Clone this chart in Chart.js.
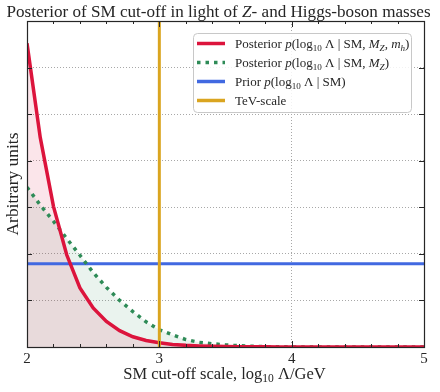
<!DOCTYPE html>
<html><head><meta charset="utf-8">
<script src="https://cdn.jsdelivr.net/npm/chart.js@4/dist/chart.umd.min.js"></script>
<style>html,body{margin:0;padding:0;background:#fff}#wrap{width:440px;height:392px;position:relative}</style>
</head><body><div id="wrap"><canvas id="c" width="440" height="392"></canvas></div>
<script>
// ---- data ----
const logLambda = [2.0,2.1,2.2,2.3,2.4,2.5,2.6,2.7,2.8,2.9,3.0,3.1,3.2,3.3,3.4,3.5,3.6,3.7,3.8,3.9,4.0,4.5,5.0];
const posteriorMZmh = [6.52,4.5,3.02,1.98,1.27,0.84,0.55,0.35,0.22,0.14,0.09,0.055,0.035,0.022,0.014,0.009,0.006,0.004,0.003,0.002,0.001,0,0];
const posteriorMZ = [3.43,3.05,2.7,2.33,1.97,1.6,1.28,1.0,0.76,0.54,0.37,0.26,0.16,0.10,0.07,0.045,0.027,0.015,0.008,0.004,0.002,0,0];
const priorRange = [2, 5];
const priorValue = 1.79;
const tevScale = 3;
const yRange = [0, 7];
const xTickLabels = ['2','3','4','5'];

const FONT = '"Liberation Serif", "DejaVu Serif", serif';
const RED = '#DC143C', GREEN = '#2E8B57', BLUE = '#4169E1', GOLD = '#DAA520';
const INK = '#262626';

function drawRich(ctx, segs, x, y, size, align) {
  let w = 0;
  const parts = segs.map(s => {
    const sz = s.sub ? size * 0.7 : size;
    const font = (s.i ? 'italic ' : '') + sz + 'px ' + FONT;
    ctx.font = font;
    const m = ctx.measureText(s.t).width;
    w += m;
    return { t: s.t, font, w: m, dy: s.sub ? size * 0.22 : 0 };
  });
  let cx = align === 'center' ? x - w / 2 : x;
  ctx.textBaseline = 'alphabetic';
  ctx.textAlign = 'left';
  for (const p of parts) { ctx.font = p.font; ctx.fillText(p.t, cx, y + p.dy); cx += p.w; }
  return w;
}

const titleSegs = [{t:'Posterior of SM cut-off in light of '},{t:'Z',i:true},{t:'- and Higgs-boson masses'}];
const xTitleSegs = [{t:'SM cut-off scale, log'},{t:'10',sub:true},{t:' Λ/GeV'}];
const yTitle = 'Arbitrary units';
const legendItems = [
  {color: RED, dash: [], segs: [{t:'Posterior '},{t:'p',i:true},{t:'(log'},{t:'10',sub:true},{t:' Λ | SM, '},{t:'M',i:true},{t:'Z',i:true,sub:true},{t:', '},{t:'m',i:true},{t:'h',i:true,sub:true},{t:')'}]},
  {color: GREEN, dash: [3.5,5], segs: [{t:'Posterior '},{t:'p',i:true},{t:'(log'},{t:'10',sub:true},{t:' Λ | SM, '},{t:'M',i:true},{t:'Z',i:true,sub:true},{t:')'}]},
  {color: BLUE, dash: [], segs: [{t:'Prior '},{t:'p',i:true},{t:'(log'},{t:'10',sub:true},{t:' Λ | SM)'}]},
  {color: GOLD, dash: [], segs: [{t:'TeV-scale'}]}
];

const decor = {
  id: 'decor',
  afterDatasetsDraw(chart) {
    const ctx = chart.ctx, a = chart.chartArea;
    const xs = chart.scales.x, ys = chart.scales.y;
    ctx.save();
    // inward ticks
    ctx.strokeStyle = INK; ctx.lineWidth = 1;
    ctx.beginPath();
    for (let v = 2; v <= 5.0001; v += 0.2) {
      const px = Math.round(xs.getPixelForValue(v)) + 0.5;
      const major = Math.abs(v - Math.round(v)) < 1e-6;
      const L = major ? 6 : 3;
      ctx.moveTo(px, a.bottom); ctx.lineTo(px, a.bottom - L);
      ctx.moveTo(px, a.top); ctx.lineTo(px, a.top + L);
    }
    for (let v = yRange[0]; v <= yRange[1]; v += 1) {
      const py = Math.round(ys.getPixelForValue(v)) + 0.5;
      ctx.moveTo(a.left, py); ctx.lineTo(a.left + 5, py);
      ctx.moveTo(a.right, py); ctx.lineTo(a.right - 5, py);
    }
    ctx.stroke();
    // frame
    ctx.strokeStyle = INK; ctx.lineWidth = 1.2;
    ctx.strokeRect(Math.round(a.left) + 0.5, Math.round(a.top) + 0.5, Math.round(a.right - a.left), Math.round(a.bottom - a.top));
    // legend
    const bx = 193, by = 33, bw = 218, bh = 79;
    ctx.beginPath();
    ctx.roundRect(bx + 0.5, by + 0.5, bw, bh, 4);
    ctx.fillStyle = 'rgba(255,255,255,0.85)'; ctx.fill();
    ctx.strokeStyle = '#c8c8c8'; ctx.lineWidth = 1; ctx.stroke();
    const rows = [43.5, 62.5, 81.5, 100.5];
    legendItems.forEach((it, k) => {
      ctx.save();
      ctx.strokeStyle = it.color; ctx.lineWidth = 3.5; ctx.setLineDash(it.dash); ctx.lineCap = 'butt';
      ctx.beginPath(); ctx.moveTo(197, rows[k]); ctx.lineTo(225, rows[k]); ctx.stroke();
      ctx.restore();
      ctx.fillStyle = INK;
      drawRich(ctx, it.segs, 235, rows[k] + 4.5, 13, 'left');
    });
    // titles
    ctx.fillStyle = INK;
    drawRich(ctx, titleSegs, 218.5, 16.5, 17.1, 'center');
    drawRich(ctx, xTitleSegs, (a.left + a.right) / 2 - 1, 378.5, 16.5, 'center');
    ctx.save();
    ctx.translate(18, (a.top + a.bottom) / 2);
    ctx.rotate(-Math.PI / 2);
    ctx.font = '17.4px ' + FONT; ctx.textAlign = 'center'; ctx.textBaseline = 'alphabetic';
    ctx.fillText(yTitle, 0, 0);
    ctx.restore();
    ctx.restore();
  }
};

const pts = arr => logLambda.map((x, i) => ({x, y: arr[i]}));

new Chart(document.getElementById('c'), {
  type: 'line',
  data: {
    datasets: [
      {label: 'TeV-scale', data: [{x: tevScale, y: yRange[0]}, {x: tevScale, y: yRange[1]}], borderColor: GOLD, borderWidth: 3, pointRadius: 0, fill: false},
      {label: 'Posterior MZ mh', data: pts(posteriorMZmh), borderColor: RED, borderWidth: 3.5, pointRadius: 0, tension: 0, fill: 'origin', backgroundColor: 'rgba(220,20,60,0.11)'},
      {label: 'Posterior MZ', data: pts(posteriorMZ), borderColor: GREEN, borderWidth: 3.5, borderDash: [3.5,5], pointRadius: 0, tension: 0, fill: 'origin', backgroundColor: 'rgba(46,139,87,0.1)'},
      {label: 'Prior', data: [{x: priorRange[0], y: priorValue}, {x: priorRange[1], y: priorValue}], borderColor: BLUE, borderWidth: 3, pointRadius: 0, fill: false}
    ]
  },
  options: {
    responsive: false, animation: false, devicePixelRatio: 1,
    layout: {padding: {top: 21, right: 16, left: 0, bottom: 0}},
    plugins: {legend: {display: false}, title: {display: false}, tooltip: {enabled: false}, filler: {drawTime: 'beforeDatasetsDraw'}},
    scales: {
      x: {
        type: 'linear', min: 2, max: 5,
        afterFit: s => { s.height = 45; },
        ticks: {stepSize: 1, color: INK, font: {family: FONT, size: 15}, padding: 3,
          callback: (v) => xTickLabels[Math.round(v) - 2] ?? ''},
        grid: {color: '#a8a8a8', lineWidth: 1, drawTicks: false},
        border: {display: false, dash: [1, 2]}
      },
      y: {
        min: yRange[0], max: yRange[1],
        afterFit: s => { s.width = 27; },
        ticks: {display: false, stepSize: 1},
        grid: {color: '#a8a8a8', lineWidth: 1, drawTicks: false},
        border: {display: false, dash: [1, 2]}
      }
    }
  },
  plugins: [decor]
});
</script></body></html>
